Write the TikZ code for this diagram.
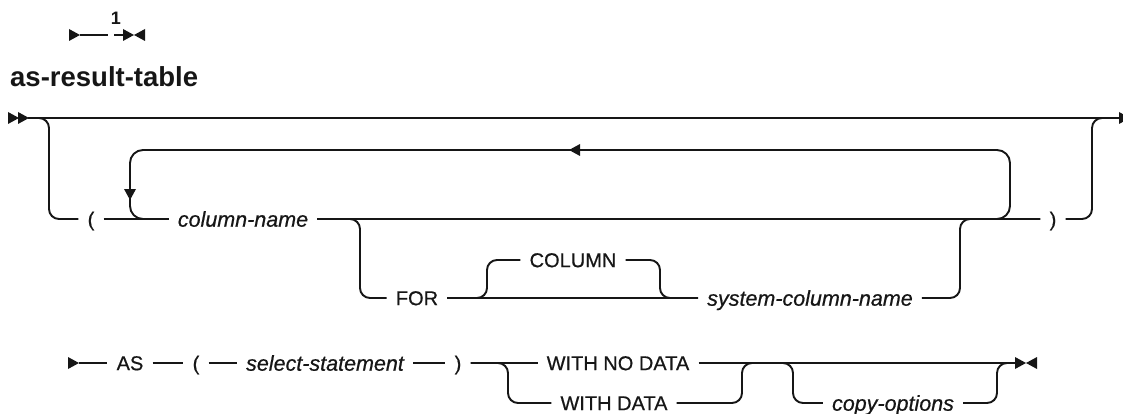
\documentclass[tikz,border=0pt]{standalone}
\usepackage{fontspec}
\setmainfont{Liberation Sans}
\newfontfamily\rrfont{Liberation Sans}[FakeBold=0.6]
\definecolor{rrink}{RGB}{22,22,22}
\tikzset{
  rrtext/.style={inner xsep=9pt, inner ysep=0pt, text depth=0pt, text=rrink},
  kw/.style={rrtext, text height=14.3pt, font=\rrfont\fontsize{20}{24}\selectfont},
  var/.style={rrtext, text height=15.4pt, font=\rrfont\fontsize{21.5}{25}\selectfont\itshape},
  ttl/.style={inner sep=0pt, text=rrink, font=\fontsize{27.5}{32}\selectfont\bfseries},
  note/.style={inner sep=0pt, text=rrink, font=\fontsize{18}{22}\selectfont\bfseries},
  rail/.style={draw=rrink, line width=1.9pt, rounded corners=10pt},
  pics/rtri/.style={code={\fill[rrink] (0,-6) -- (11,0) -- (0,6) -- cycle;}},
  pics/ltri/.style={code={\fill[rrink] (0,-6) -- (-11,0) -- (0,6) -- cycle;}},
  pics/dtri/.style={code={\fill[rrink] (-6,0) -- (0,11) -- (6,0) -- cycle;}}
}

\begin{document}
\begin{tikzpicture}[x=1pt, y=-1pt]
  \useasboundingbox (0,0) rectangle (1123,414);

  % footnote marker and title
  \coordinate (n0) at (80,35);
  \coordinate (n1) at (108,35);
  \coordinate (n2) at (114,35);
  \coordinate (n3) at (123,35);
  \pic at (69,35) {rtri};
  \draw[rail] (n0) -- (n1);
  \node[note] (fn) at (116,18) {1};
  \draw[rail] (n2) -- (n3);
  \pic at (123,35) {rtri};
  \pic at (145,35) {ltri};
  \node[ttl, anchor=base west] (title) at (10,87) {as-result-table};

  % main line
  \coordinate (a0) at (28,118);
  \coordinate (aE) at (1119,118);
  \coordinate (jA1) at (49,118);
  \coordinate (jA2) at (1092,118);
  \pic at (8,118) {rtri};
  \pic at (18,118) {rtri};
  \draw[rail] (a0) -- (aE);
  \pic at (1119,118) {rtri};

  % column list
  \node[kw] (lp1) at (91,219) {(};
  \node[var] (colname) at (243,219) {column-name};
  \node[kw] (rp1) at (1053,219) {)};
  \coordinate (jB1) at (49,219);
  \coordinate (lpTR) at (1010,150);
  \coordinate (lpBL) at (130,219);
  \draw[rail] (a0) -- (jA1) -- (jB1) -- (lp1.west);
  \draw[rail] (lp1.east) -- (colname.west);
  \draw[rail] (colname.east) -- (rp1.west);
  \draw[rail] (rp1.east) -| (jA2) -- (aE);
  \draw[rail, rounded corners=13pt] (colname.east) -| (lpTR) -| (lpBL) -- (colname.west);
  \pic at (580,150) {ltri};
  \pic at (130,189) {dtri};

  % FOR system column
  \node[kw] (for) at (417,298) {FOR};
  \node[kw] (column) at (573,260) {COLUMN};
  \node[var] (sysname) at (810,298) {system-column-name};
  \coordinate (jC1) at (360,298);
  \coordinate (jC2) at (487,298);
  \coordinate (jC3) at (660,298);
  \coordinate (jB4) at (960,219);
  \draw[rail] (colname.east) -| (jC1) -- (for.west);
  \draw[rail] (for.east) -- (sysname.west);
  \draw[rail] (for.east) -- (jC2) |- (column.west);
  \draw[rail] (column.east) -| (jC3) -- (sysname.west);
  \draw[rail] (sysname.east) -| (jB4) -- (rp1.west);

  % AS query
  \node[kw] (as) at (130,363) {AS};
  \node[kw] (lp2) at (196,363) {(};
  \node[var] (sel) at (325,363) {select-statement};
  \node[kw] (rp2) at (458,363) {)};
  \node[kw] (nodata) at (618,363) {WITH NO DATA};
  \node[kw] (withdata) at (614,403) {WITH DATA};
  \node[var] (copyopt) at (893,403) {copy-options};
  \coordinate (d0) at (79,363);
  \coordinate (dE) at (1015,363);
  \coordinate (jD1) at (508,363);
  \coordinate (jD2) at (742,363);
  \coordinate (jD3) at (793,363);
  \coordinate (jD4) at (997,363);
  \pic at (68,363) {rtri};
  \draw[rail] (d0) -- (as.west);
  \draw[rail] (as.east) -- (lp2.west);
  \draw[rail] (lp2.east) -- (sel.west);
  \draw[rail] (sel.east) -- (rp2.west);
  \draw[rail] (rp2.east) -- (nodata.west);
  \draw[rail] (nodata.east) -- (dE);
  \draw[rail] (rp2.east) -- (jD1) |- (withdata.west);
  \draw[rail] (withdata.east) -| (jD2) -- (jD3);
  \draw[rail] (jD2) -- (jD3) |- (copyopt.west);
  \draw[rail] (copyopt.east) -| (jD4) -- (dE);
  \pic at (1015,363) {rtri};
  \pic at (1037,363) {ltri};
\end{tikzpicture}
\end{document}
